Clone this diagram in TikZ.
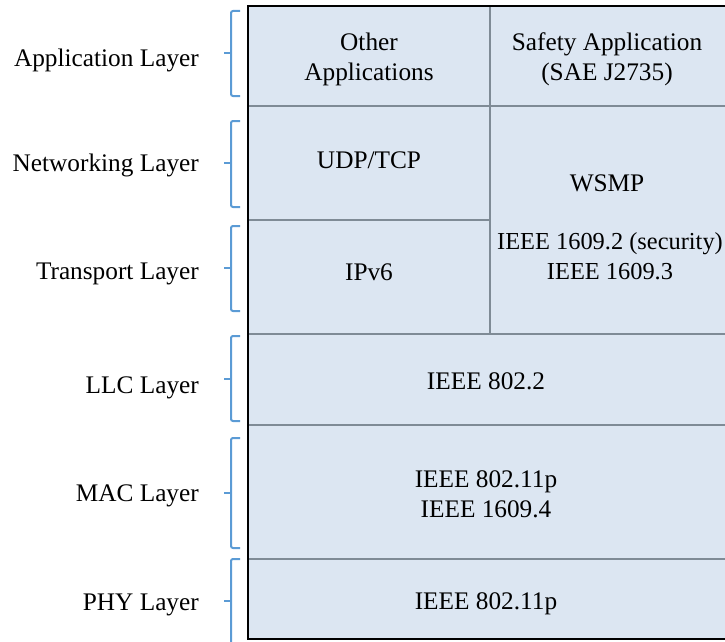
\documentclass[tikz,border=0pt]{standalone}
\usepackage{fontspec}
\setmainfont{Liberation Serif}
\usepackage{xcolor}
\usetikzlibrary{positioning,calc}

\definecolor{cellblue}{HTML}{DCE6F2}
\definecolor{gridgray}{HTML}{7F8B96}
\definecolor{braceblue}{HTML}{5B9BD5}

\tikzset{
    txt/.style={font=\fontsize{25.3}{30}\selectfont, align=center, inner sep=0pt},
    lbl/.style={font=\fontsize{25.3}{30}\selectfont, anchor=east, inner sep=0pt},
    grid/.style={gridgray, line width=1.3pt},
    brc/.style={braceblue, line width=2pt, rounded corners=2pt}
}

\begin{document}
\begin{tikzpicture}[x=1pt, y=-1pt]
    \useasboundingbox (0, 0) rectangle (725, 642);

    % Stack background
    \fill [cellblue] (248, 6) rectangle (728, 639);

    % Inner lines
    \draw [grid] (248, 106) -- (728, 106);
    \draw [grid] (248, 220) -- (490, 220);
    \draw [grid] (248, 334) -- (728, 334);
    \draw [grid] (248, 425) -- (728, 425);
    \draw [grid] (248, 559) -- (728, 559);
    \draw [grid] (490, 6) -- (490, 334);

    % Outer border
    \draw [line width=2pt] (728, 6) -- (248, 6) -- (248, 639) -- (728, 639);

    % Cell texts
    \node [txt] (other) at (369, 59) {Other\\Applications};
    \node [txt] (safety) at (607, 59) {Safety Application\\(SAE J2735)};
    \node [txt] (udp) at (369, 160) {UDP/TCP};
    \node [txt] (ipv6) at (369, 272) {IPv6};
    \node [txt] (wsmp) at (607, 183) {WSMP};
    \node [txt, font=\fontsize{24.4}{30}\selectfont] (ieee16092) at (610, 256) {IEEE 1609.2 (security)\\IEEE 1609.3};
    \node [txt] (llc) at (486, 381) {IEEE 802.2};
    \node [txt] (mac) at (486, 494) {IEEE 802.11p\\IEEE 1609.4};
    \node [txt] (phy) at (486, 604) {IEEE 802.11p};

    % Layer names
    \node [lbl] (applbl) at (199, 60) {Application Layer};
    \node [lbl] (netlbl) at (199, 165) {Networking Layer};
    \node [lbl] (translbl) at (199, 274) {Transport Layer};
    \node [lbl] (llclbl) at (199, 388) {LLC Layer};
    \node [lbl] (maclbl) at (199, 496) {MAC Layer};
    \node [lbl] (phylbl) at (199, 605) {PHY Layer};

    % Braces
    \foreach \top/\mid/\bot in {11/53/96, 121/163/207, 226/268/311, 336/379/421, 438/493/548, 559/601/650} {
        \draw [brc] (240, \top) -- (231, \top) -- (231, \bot) -- (240, \bot);
        \draw [braceblue, line width=2pt] (231, \mid) -- (224, \mid);
    }
\end{tikzpicture}
\end{document}
